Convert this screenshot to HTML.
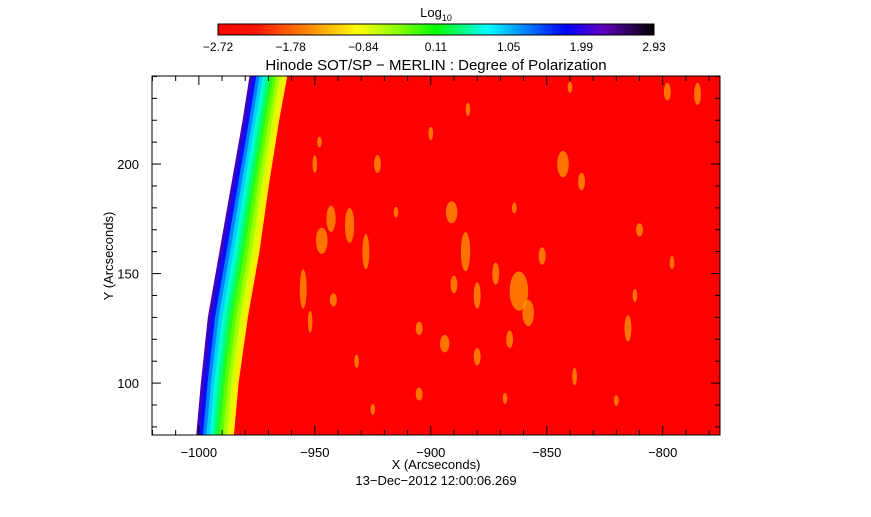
<!DOCTYPE html>
<html><head><meta charset="utf-8"><style>
body{margin:0;background:#fff}
svg text{font-family:"Liberation Sans",sans-serif;fill:#000}
</style></head><body>
<svg id="c" width="871" height="512" xmlns="http://www.w3.org/2000/svg">
<defs>
<linearGradient id="cb" x1="0" x2="1">
<stop offset="0" stop-color="#ff0000"/><stop offset="0.08" stop-color="#ff1000"/><stop offset="0.2" stop-color="#ff8000"/><stop offset="0.32" stop-color="#ffff00"/><stop offset="0.42" stop-color="#80ff00"/><stop offset="0.5" stop-color="#00ff00"/><stop offset="0.62" stop-color="#00ffff"/><stop offset="0.75" stop-color="#0040ff"/><stop offset="0.8" stop-color="#0000ff"/><stop offset="0.88" stop-color="#6000c0"/><stop offset="1" stop-color="#000000"/>
</linearGradient>
<clipPath id="pc"><rect x="152" y="76" width="568" height="359"/></clipPath>
</defs>
<g id="plot" clip-path="url(#pc)"></g>
<g id="axes"></g>
</svg>
<script>
const xDomain=[-1020.2,-775.3], yDomain=[76.3,240.2];
const xTicks=[-1000,-950,-900,-850,-800];
const yTicks=[100,150,200];
const cbLabels=["-2.72","-1.78","-0.84","0.11","1.05","1.99","2.93"].map(s=>s.replace('-','\u2212'));
const limbY=[76.3,100,130,160,190,220,240.2];
const limbRed=[-985,-983,-979,-974,-970,-965.5,-962];
const limbOuter=[-1001,-999,-996,-991,-986,-981,-978];
const patches=[[-947,165,2.5,6],[-943,175,2,6],[-935,172,2,8],[-928,160,1.5,8],[-955,143,1.5,9],[-952,128,1,5],[-942,138,1.5,3],[-891,178,2.5,5],[-885,160,2,9],[-880,140,1.5,6],[-890,145,1.5,4],[-872,150,1.5,5],[-862,142,4,9],[-858,132,2.5,6],[-852,158,1.5,4],[-866,120,1.5,4],[-843,200,2.5,6],[-835,192,1.5,4],[-815,125,1.5,6],[-812,140,1,3],[-894,118,2,4],[-905,125,1.5,3],[-880,112,1.5,4],[-838,103,1,4],[-798,233,1.5,4],[-785,232,1.5,5],[-900,214,1,3],[-923,200,1.5,4],[-950,200,1,4],[-932,110,1,3],[-905,95,1.5,3],[-925,88,1,2.5],[-868,93,1,2.5],[-820,92,1,2.5],[-884,225,1,3],[-840,235,1,2.5],[-810,170,1.5,3],[-796,155,1,3],[-948,210,1,2.5],[-915,178,1,2.5],[-864,180,1,2.5]];
const X0=152,X1=720,Y0=435,Y1=76;
const sx=v=>X0+(v-xDomain[0])/(xDomain[1]-xDomain[0])*(X1-X0);
const sy=v=>Y0-(v-yDomain[0])/(yDomain[1]-yDomain[0])*(Y0-Y1);
const NS="http://www.w3.org/2000/svg";
function mk(tag,attrs,parent){const e=document.createElementNS(NS,tag);for(const k in attrs)e.setAttribute(k,attrs[k]);parent.appendChild(e);return e;}
const plot=document.getElementById('plot'),axes=document.getElementById('axes');
let pts=limbY.map((y,i)=>sx(limbRed[i])+','+sy(y));
let disk=mk('polygon',{points:pts.join(' ')+' '+X1+','+sy(limbY[limbY.length-1])+' '+X1+','+sy(limbY[0]),fill:'#ff0000'},plot);


const stripCols=['#4000c0','#0010ff','#0080ff','#00d0ff','#00ffd0','#00ff80','#20ff20','#60ff00','#a0ff00','#d8ff00','#ffec00'];
const n=stripCols.length;
for(let k=0;k<n;k++){
 const f0=k/n,f1=(k+1)/n;
 const a=limbY.map((y,i)=>sx(limbOuter[i]+(limbRed[i]-limbOuter[i])*f0)+','+sy(y));
 const b=limbY.map((y,i)=>sx(limbOuter[i]+(limbRed[i]-limbOuter[i])*f1)+','+sy(y)).reverse();
 const s=mk('polygon',{points:a.concat(b).join(' '),fill:stripCols[k],stroke:stripCols[k],'stroke-width':0.6},plot);
 
 
}
patches.forEach(p=>{
 const e=mk('ellipse',{cx:sx(p[0]),cy:sy(p[1]),rx:p[2]*2.32,ry:p[3]*2.19,fill:'#ffc000',opacity:0.6},plot);
 
 
});
const fr=mk('rect',{x:X0,y:Y1,width:X1-X0,height:Y0-Y1,fill:'none',stroke:'#000','stroke-width':1},axes);


for(let v=-1020;v<=-780;v+=10){const x=sx(v),L=(v%50===0)?9:5;
 mk('line',{x1:x,y1:Y0,x2:x,y2:Y0-L,stroke:'#000'},axes);mk('line',{x1:x,y1:Y1,x2:x,y2:Y1+L,stroke:'#000'},axes);}
for(let v=80;v<=240;v+=10){const y=sy(v),L=(v%50===0)?9:5;
 mk('line',{x1:X0,y1:y,x2:X0+L,y2:y,stroke:'#000'},axes);mk('line',{x1:X1,y1:y,x2:X1-L,y2:y,stroke:'#000'},axes);}
xTicks.forEach(v=>{const t=mk('text',{x:sx(v),y:Y0+22,'text-anchor':'middle','font-size':13},axes);t.textContent=String(v).replace('-','\u2212');
 });
yTicks.forEach(v=>{const t=mk('text',{x:X0-13,y:sy(v)+5,'text-anchor':'end','font-size':13},axes);t.textContent=v;
 });
let t=mk('text',{x:436,y:469,'text-anchor':'middle','font-size':13},axes);t.textContent='X (Arcseconds)';

t=mk('text',{x:436,y:485,'text-anchor':'middle','font-size':13},axes);t.textContent='13\u2212Dec\u22122012 12:00:06.269';

t=mk('text',{x:0,y:0,'text-anchor':'middle','font-size':13,transform:'translate(113,256) rotate(-90)'},axes);t.textContent='Y (Arcseconds)';

t=mk('text',{x:436,y:70,'text-anchor':'middle','font-size':15},axes);t.textContent='Hinode SOT/SP \u2212 MERLIN : Degree of Polarization';

const cb=mk('rect',{x:218,y:24,width:436,height:11,fill:'url(#cb)',stroke:'#000'},axes);

t=mk('text',{x:436,y:17,'text-anchor':'middle','font-size':13},axes);t.innerHTML='Log<tspan font-size="9" dy="4">10</tspan>';

cbLabels.forEach((s,i)=>{const tt=mk('text',{x:218+i*436/6,y:51,'text-anchor':'middle','font-size':12},axes);tt.textContent=s;
 });
</script>
</body></html>
